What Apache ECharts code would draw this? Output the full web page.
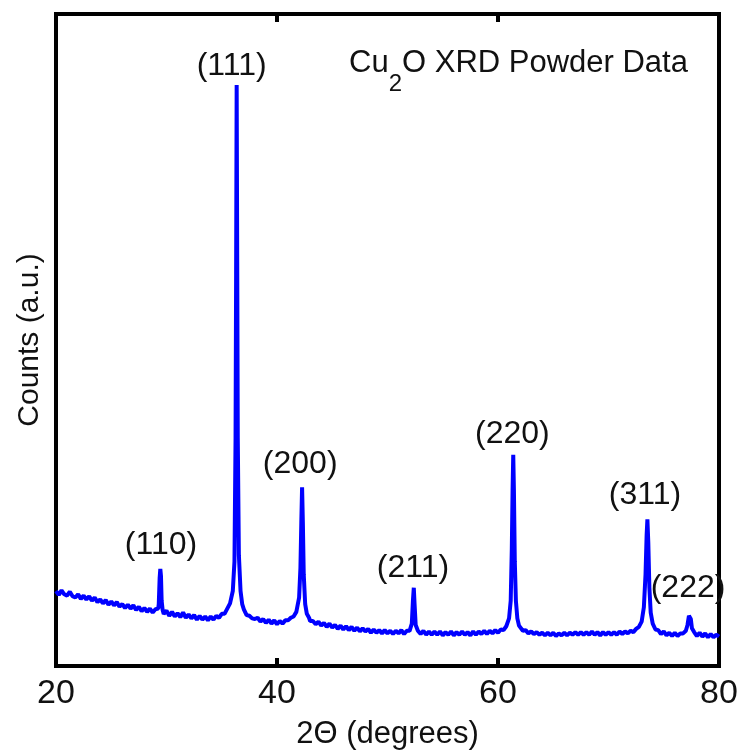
<!DOCTYPE html>
<html>
<head>
<meta charset="utf-8">
<script src="https://cdn.jsdelivr.net/npm/echarts@6/dist/echarts.min.js"></script>
<style>html,body{margin:0;padding:0;background:#fff}#c{width:742px;height:755px}</style>
</head>
<body>
<div id="c"></div>
<script>
// 2θ (degrees) and counts (a.u., 0-100 scale)
var xrdScan = [
[20.00,11.5],[20.25,10.9],[20.50,11.6],[20.75,11.0],[21.00,10.8],[21.25,11.4],[21.50,10.7],[21.75,10.5],
[22.00,11.0],[22.25,10.3],[22.50,10.8],[22.75,10.2],[23.00,10.7],[23.25,10.0],[23.50,10.5],[23.75,9.8],
[24.00,10.2],[24.25,9.6],[24.50,10.1],[24.75,9.4],[25.00,9.9],[25.25,9.3],[25.50,9.8],[25.75,9.1],
[26.00,9.5],[26.25,8.9],[26.50,9.4],[26.75,8.8],[27.00,9.3],[27.25,8.6],[27.50,9.1],[27.75,8.4],
[28.00,8.9],[28.25,8.3],[28.50,8.8],[28.75,8.2],[29.00,8.7],[29.25,8.8],
[29.30,9.5],[29.38,13.5],[29.44,14.9],[29.50,13.8],[29.56,10.0],[29.65,8.6],
[29.75,8.0],[30.00,8.5],[30.25,7.7],[30.50,8.3],[30.75,7.6],[31.00,8.1],[31.25,7.5],[31.50,8.2],
[31.75,7.4],[32.00,7.9],[32.25,7.3],[32.50,7.8],[32.75,7.1],[33.00,7.7],[33.25,7.1],[33.50,7.6],
[33.75,7.0],[34.00,7.6],[34.25,7.1],[34.50,7.7],[34.75,7.4],[35.00,8.0],[35.25,8.0],[35.50,8.8],
[35.75,9.6],[36.00,11.5],[36.15,16],[36.25,35],[36.30,60],[36.35,89.1],[36.40,62],[36.45,35],
[36.55,17],[36.70,11.5],[36.85,9.5],[37.00,8.7],[37.25,7.8],[37.50,7.7],[37.75,7.3],[38.00,7.2],
[38.25,7.4],[38.50,6.8],[38.75,7.2],[39.00,6.6],[39.25,7.1],[39.50,6.5],[39.75,7.0],[40.00,6.4],
[40.25,6.9],[40.50,6.5],[40.75,7.0],[41.00,7.0],[41.25,7.4],[41.50,7.6],[41.75,8.3],
[42.00,10.5],[42.12,15],[42.20,22],[42.27,27.4],[42.34,22],[42.42,14],[42.55,9.5],[42.70,8.0],
[42.90,7.4],[43.00,6.9],[43.25,6.9],[43.50,6.4],[43.75,6.8],[44.00,6.2],[44.25,6.6],[44.50,6.0],
[44.75,6.5],[45.00,5.9],[45.25,6.3],[45.50,5.7],[45.75,6.2],[46.00,5.6],[46.25,6.1],[46.50,5.5],
[46.75,6.0],[47.00,5.4],[47.25,5.9],[47.50,5.3],[47.75,5.8],[48.00,5.3],[48.25,5.7],[48.50,5.1],
[48.75,5.6],[49.00,5.1],[49.25,5.5],[49.50,5.0],[49.75,5.5],[50.00,5.0],[50.25,5.4],[50.50,4.9],
[50.75,5.4],[51.00,5.0],[51.25,5.5],[51.50,4.9],[51.75,5.4],[52.00,5.4],
[52.20,6.5],[52.30,10],[52.38,12.0],[52.45,9.5],[52.55,6.3],[52.75,5.4],
[53.00,4.9],[53.25,5.4],[53.50,4.8],[53.75,5.3],[54.00,4.8],[54.25,5.3],[54.50,4.8],[54.75,5.3],
[55.00,4.7],[55.25,5.2],[55.50,4.8],[55.75,5.3],[56.00,4.7],[56.25,5.2],[56.50,4.8],[56.75,5.3],
[57.00,4.8],[57.25,5.2],[57.50,4.7],[57.75,5.3],[58.00,4.8],[58.25,5.3],[58.50,4.9],[58.75,5.4],
[59.00,4.9],[59.25,5.4],[59.50,5.0],[59.75,5.5],[60.00,5.1],[60.25,5.6],[60.50,5.5],[60.75,6.1],
[61.00,7.3],[61.15,10],[61.25,18],[61.32,27],[61.38,32.4],[61.44,27],[61.52,16],[61.62,10],
[61.75,7.3],[61.90,6.2],[62.00,5.9],[62.25,5.4],[62.50,5.5],[62.75,5.0],[63.00,5.3],[63.25,4.9],
[63.50,5.2],[63.75,4.8],[64.00,5.1],[64.25,4.7],[64.50,5.1],[64.75,4.7],[65.00,5.1],[65.25,4.6],
[65.50,5.0],[65.75,4.7],[66.00,5.1],[66.25,4.7],[66.50,5.1],[66.75,4.8],[67.00,5.2],[67.25,4.8],
[67.50,5.2],[67.75,4.8],[68.00,5.2],[68.25,4.8],[68.50,5.3],[68.75,4.8],[69.00,5.2],[69.25,4.7],
[69.50,5.2],[69.75,4.8],[70.00,5.2],[70.25,4.8],[70.50,5.2],[70.75,4.8],[71.00,5.3],[71.25,4.9],
[71.50,5.3],[71.75,5.0],[72.00,5.4],[72.25,5.2],[72.50,5.7],[72.75,6.0],[73.00,6.8],
[73.20,9],[73.35,14],[73.45,20],[73.52,22.5],[73.60,19],[73.70,12],[73.82,8.2],[74.00,6.5],
[74.25,5.6],[74.50,5.5],[74.75,4.9],[75.00,5.3],[75.25,4.7],[75.50,5.1],[75.75,4.6],[76.00,5.1],
[76.25,4.6],[76.50,5.0],[76.75,5.0],[77.00,5.4],[77.15,6.3],[77.28,7.7],[77.35,7.9],[77.45,7.2],
[77.55,5.8],[77.75,5.2],[78.00,4.6],[78.25,5.1],[78.50,4.5],[78.75,5.0],[79.00,4.4],[79.25,4.9],
[79.50,4.4],[79.75,4.8],[80.00,4.5]
];
// peak labels: [2θ, height, text]
var peakLabels = [
[35.9,92.0,'(111)'],[42.1,31.0,'(200)'],[29.5,18.6,'(110)'],[52.3,15.0,'(211)'],
[61.3,35.5,'(220)'],[73.3,26.2,'(311)'],[77.2,12.0,'(222)']
];
var xTicks = [20,40,60,80];

var FONT = 'Liberation Sans';
var chart = echarts.init(document.getElementById('c'));
chart.setOption({
  animation:false,
  backgroundColor:'#fff',
  grid:{left:56,right:23,top:14,bottom:83,show:true,borderColor:'#000',borderWidth:4},
  graphic:[{
    type:'text', left:349, top:48,
    style:{
      text:'{a|Cu}{s|2}{a|O XRD Powder Data}',
      rich:{
        a:{fontFamily:FONT,fontSize:31,fill:'#111',verticalAlign:'bottom',lineHeight:34},
        s:{fontFamily:FONT,fontSize:24,fill:'#111',verticalAlign:'bottom',lineHeight:34,padding:[0,0,-17,0]}
      }
    }
  }],
  xAxis:[{
    type:'value', min:20, max:80, interval:20,
    name:'2\u0398 (degrees)', nameLocation:'middle', nameGap:53,
    nameTextStyle:{fontFamily:FONT,fontSize:31,color:'#111'},
    axisLine:{show:false},
    axisTick:{inside:true,length:8,lineStyle:{color:'#000',width:4}},
    axisLabel:{fontFamily:FONT,fontSize:34,color:'#111',margin:11,
      formatter:function(v){return xTicks.indexOf(v)>=0?String(v):'';}},
    splitLine:{show:false}
  },{
    type:'value', min:20, max:80, interval:20, position:'top',
    axisLine:{show:false},
    axisTick:{inside:true,length:8,lineStyle:{color:'#000',width:4}},
    axisLabel:{show:false}, splitLine:{show:false}
  }],
  yAxis:{
    type:'value', min:0, max:100,
    name:'Counts (a.u.)', nameLocation:'middle', nameGap:11,
    nameTextStyle:{fontFamily:FONT,fontSize:30,color:'#111'},
    axisLine:{show:false}, axisTick:{show:false}, axisLabel:{show:false}, splitLine:{show:false}
  },
  series:[{
    type:'line', data:xrdScan, showSymbol:false, symbol:'none',
    lineStyle:{color:'#0000ff',width:4}, z:3
  },{
    type:'scatter', symbolSize:0, itemStyle:{opacity:1},
    data:peakLabels.map(function(p){return {value:[p[0],p[1]],name:p[2]};}),
    label:{show:true,position:'inside',opacity:1,formatter:function(p){return p.name;},
      fontFamily:FONT,fontSize:32,color:'#111'}, z:4
  }]
});
</script>
</body>
</html>
